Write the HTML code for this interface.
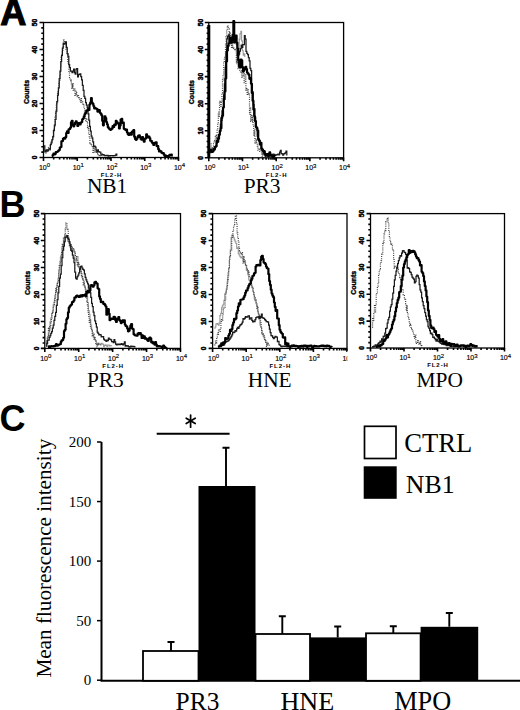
<!DOCTYPE html><html><head><meta charset="utf-8"><style>html,body{margin:0;padding:0;background:#fff;width:520px;height:710px;overflow:hidden}svg{display:block}</style></head><body><svg width="520" height="710" viewBox="0 0 520 710">
<style>.tk{fill:none;stroke:#000;stroke-width:2.2;stroke-linejoin:round} .tn{fill:none;stroke:#1a1a1a;stroke-width:1.25} .gr{fill:none;stroke:#999;stroke-width:1.1} .dt{fill:none;stroke:#444;stroke-width:1.2;stroke-dasharray:1 1.2}</style>
<rect width="520" height="710" fill="#fff"/>
<text x="0.3" y="25.0" font-family='"Liberation Sans", sans-serif' font-weight="bold" font-size="36.2" stroke="#000" stroke-width="1.1" stroke-linejoin="miter">A</text>
<text x="-0.5" y="216.8" font-family='"Liberation Sans", sans-serif' font-weight="bold" font-size="36">B</text>
<text x="-0.5" y="431" font-family='"Liberation Sans", sans-serif' font-weight="bold" font-size="36">C</text>
<rect x="43.5" y="22.5" width="135.0" height="135.0" fill="none" stroke="#000" stroke-width="1.3"/>
<path d="M39.50 157.50H43.5 M41.30 152.10H43.5 M41.30 146.70H43.5 M41.30 141.30H43.5 M41.30 135.90H43.5 M39.50 130.50H43.5 M41.30 125.10H43.5 M41.30 119.70H43.5 M41.30 114.30H43.5 M41.30 108.90H43.5 M39.50 103.50H43.5 M41.30 98.10H43.5 M41.30 92.70H43.5 M41.30 87.30H43.5 M41.30 81.90H43.5 M39.50 76.50H43.5 M41.30 71.10H43.5 M41.30 65.70H43.5 M41.30 60.30H43.5 M41.30 54.90H43.5 M39.50 49.50H43.5 M41.30 44.10H43.5 M41.30 38.70H43.5 M41.30 33.30H43.5 M41.30 27.90H43.5 M39.50 22.50H43.5" stroke="#000" stroke-width="1.6" fill="none"/>
<text x="0" y="0" transform="translate(34.80,157.50) rotate(-90)" text-anchor="middle" dominant-baseline="central" font-family='"Liberation Sans", sans-serif' font-weight="bold" font-size="6.6" stroke="#000" stroke-width="0.45">0</text>
<text x="0" y="0" transform="translate(34.80,130.50) rotate(-90)" text-anchor="middle" dominant-baseline="central" font-family='"Liberation Sans", sans-serif' font-weight="bold" font-size="6.6" stroke="#000" stroke-width="0.45">10</text>
<text x="0" y="0" transform="translate(34.80,103.50) rotate(-90)" text-anchor="middle" dominant-baseline="central" font-family='"Liberation Sans", sans-serif' font-weight="bold" font-size="6.6" stroke="#000" stroke-width="0.45">20</text>
<text x="0" y="0" transform="translate(34.80,76.50) rotate(-90)" text-anchor="middle" dominant-baseline="central" font-family='"Liberation Sans", sans-serif' font-weight="bold" font-size="6.6" stroke="#000" stroke-width="0.45">30</text>
<text x="0" y="0" transform="translate(34.80,49.50) rotate(-90)" text-anchor="middle" dominant-baseline="central" font-family='"Liberation Sans", sans-serif' font-weight="bold" font-size="6.6" stroke="#000" stroke-width="0.45">40</text>
<text x="0" y="0" transform="translate(34.80,22.50) rotate(-90)" text-anchor="middle" dominant-baseline="central" font-family='"Liberation Sans", sans-serif' font-weight="bold" font-size="6.6" stroke="#000" stroke-width="0.45">50</text>
<text x="0" y="0" transform="translate(26.60,92.00) rotate(-90)" text-anchor="middle" dominant-baseline="central" font-family='"Liberation Sans", sans-serif' font-weight="bold" font-size="7" stroke="#000" stroke-width="0.35">Counts</text>
<path d="M43.50 157.5V161.00 M53.66 157.5V159.50 M59.60 157.5V159.50 M63.82 157.5V159.50 M67.09 157.5V159.50 M69.76 157.5V159.50 M72.02 157.5V159.50 M73.98 157.5V159.50 M75.71 157.5V159.50 M77.25 157.5V161.00 M87.41 157.5V159.50 M93.35 157.5V159.50 M97.57 157.5V159.50 M100.84 157.5V159.50 M103.51 157.5V159.50 M105.77 157.5V159.50 M107.73 157.5V159.50 M109.46 157.5V159.50 M111.00 157.5V161.00 M121.16 157.5V159.50 M127.10 157.5V159.50 M131.32 157.5V159.50 M134.59 157.5V159.50 M137.26 157.5V159.50 M139.52 157.5V159.50 M141.48 157.5V159.50 M143.21 157.5V159.50 M144.75 157.5V161.00 M154.91 157.5V159.50 M160.85 157.5V159.50 M165.07 157.5V159.50 M168.34 157.5V159.50 M171.01 157.5V159.50 M173.27 157.5V159.50 M175.23 157.5V159.50 M176.96 157.5V159.50 M178.50 157.5V161.00" stroke="#000" stroke-width="1.6" fill="none"/>
<text x="38.90" y="169.60" font-family='"Liberation Sans", sans-serif' font-size="7" stroke="#000" stroke-width="0.15">10<tspan dy="-2.4" font-size="6">0</tspan></text>
<text x="72.65" y="169.60" font-family='"Liberation Sans", sans-serif' font-size="7" stroke="#000" stroke-width="0.15">10<tspan dy="-2.4" font-size="6">1</tspan></text>
<text x="106.40" y="169.60" font-family='"Liberation Sans", sans-serif' font-size="7" stroke="#000" stroke-width="0.15">10<tspan dy="-2.4" font-size="6">2</tspan></text>
<text x="140.15" y="169.60" font-family='"Liberation Sans", sans-serif' font-size="7" stroke="#000" stroke-width="0.15">10<tspan dy="-2.4" font-size="6">3</tspan></text>
<text x="173.90" y="169.60" font-family='"Liberation Sans", sans-serif' font-size="7" stroke="#000" stroke-width="0.15">10<tspan dy="-2.4" font-size="6">4</tspan></text>
<text x="111.50" y="176.80" text-anchor="middle" font-family='"Liberation Sans", sans-serif' font-size="6" font-weight="bold" letter-spacing="0.95">FL2-H</text>
<text x="86.9" y="193.2" font-family='"Liberation Serif", serif' font-size="21.4">NB1</text>
<rect x="208.8" y="22.5" width="134.8" height="135.3" fill="none" stroke="#000" stroke-width="1.3"/>
<path d="M204.80 157.80H208.8 M206.60 152.39H208.8 M206.60 146.98H208.8 M206.60 141.56H208.8 M206.60 136.15H208.8 M204.80 130.74H208.8 M206.60 125.33H208.8 M206.60 119.92H208.8 M206.60 114.50H208.8 M206.60 109.09H208.8 M204.80 103.68H208.8 M206.60 98.27H208.8 M206.60 92.86H208.8 M206.60 87.44H208.8 M206.60 82.03H208.8 M204.80 76.62H208.8 M206.60 71.21H208.8 M206.60 65.80H208.8 M206.60 60.38H208.8 M206.60 54.97H208.8 M204.80 49.56H208.8 M206.60 44.15H208.8 M206.60 38.74H208.8 M206.60 33.32H208.8 M206.60 27.91H208.8 M204.80 22.50H208.8" stroke="#000" stroke-width="1.6" fill="none"/>
<text x="0" y="0" transform="translate(200.10,157.80) rotate(-90)" text-anchor="middle" dominant-baseline="central" font-family='"Liberation Sans", sans-serif' font-weight="bold" font-size="6.6" stroke="#000" stroke-width="0.45">0</text>
<text x="0" y="0" transform="translate(200.10,130.74) rotate(-90)" text-anchor="middle" dominant-baseline="central" font-family='"Liberation Sans", sans-serif' font-weight="bold" font-size="6.6" stroke="#000" stroke-width="0.45">10</text>
<text x="0" y="0" transform="translate(200.10,103.68) rotate(-90)" text-anchor="middle" dominant-baseline="central" font-family='"Liberation Sans", sans-serif' font-weight="bold" font-size="6.6" stroke="#000" stroke-width="0.45">20</text>
<text x="0" y="0" transform="translate(200.10,76.62) rotate(-90)" text-anchor="middle" dominant-baseline="central" font-family='"Liberation Sans", sans-serif' font-weight="bold" font-size="6.6" stroke="#000" stroke-width="0.45">30</text>
<text x="0" y="0" transform="translate(200.10,49.56) rotate(-90)" text-anchor="middle" dominant-baseline="central" font-family='"Liberation Sans", sans-serif' font-weight="bold" font-size="6.6" stroke="#000" stroke-width="0.45">40</text>
<text x="0" y="0" transform="translate(200.10,22.50) rotate(-90)" text-anchor="middle" dominant-baseline="central" font-family='"Liberation Sans", sans-serif' font-weight="bold" font-size="6.6" stroke="#000" stroke-width="0.45">50</text>
<text x="0" y="0" transform="translate(191.90,92.15) rotate(-90)" text-anchor="middle" dominant-baseline="central" font-family='"Liberation Sans", sans-serif' font-weight="bold" font-size="7" stroke="#000" stroke-width="0.35">Counts</text>
<path d="M208.80 157.8V161.30 M218.94 157.8V159.80 M224.88 157.8V159.80 M229.09 157.8V159.80 M232.36 157.8V159.80 M235.02 157.8V159.80 M237.28 157.8V159.80 M239.23 157.8V159.80 M240.96 157.8V159.80 M242.50 157.8V161.30 M252.64 157.8V159.80 M258.58 157.8V159.80 M262.79 157.8V159.80 M266.06 157.8V159.80 M268.72 157.8V159.80 M270.98 157.8V159.80 M272.93 157.8V159.80 M274.66 157.8V159.80 M276.20 157.8V161.30 M286.34 157.8V159.80 M292.28 157.8V159.80 M296.49 157.8V159.80 M299.76 157.8V159.80 M302.42 157.8V159.80 M304.68 157.8V159.80 M306.63 157.8V159.80 M308.36 157.8V159.80 M309.90 157.8V161.30 M320.04 157.8V159.80 M325.98 157.8V159.80 M330.19 157.8V159.80 M333.46 157.8V159.80 M336.12 157.8V159.80 M338.38 157.8V159.80 M340.33 157.8V159.80 M342.06 157.8V159.80 M343.60 157.8V161.30" stroke="#000" stroke-width="1.6" fill="none"/>
<text x="204.20" y="169.90" font-family='"Liberation Sans", sans-serif' font-size="7" stroke="#000" stroke-width="0.15">10<tspan dy="-2.4" font-size="6">0</tspan></text>
<text x="237.90" y="169.90" font-family='"Liberation Sans", sans-serif' font-size="7" stroke="#000" stroke-width="0.15">10<tspan dy="-2.4" font-size="6">1</tspan></text>
<text x="271.60" y="169.90" font-family='"Liberation Sans", sans-serif' font-size="7" stroke="#000" stroke-width="0.15">10<tspan dy="-2.4" font-size="6">2</tspan></text>
<text x="305.30" y="169.90" font-family='"Liberation Sans", sans-serif' font-size="7" stroke="#000" stroke-width="0.15">10<tspan dy="-2.4" font-size="6">3</tspan></text>
<text x="339.00" y="169.90" font-family='"Liberation Sans", sans-serif' font-size="7" stroke="#000" stroke-width="0.15">10<tspan dy="-2.4" font-size="6">4</tspan></text>
<text x="276.70" y="177.10" text-anchor="middle" font-family='"Liberation Sans", sans-serif' font-size="6" font-weight="bold" letter-spacing="0.95">FL2-H</text>
<text x="243.7" y="193.2" font-family='"Liberation Serif", serif' font-size="21.4">PR3</text>
<rect x="207.3" y="25" width="3" height="132.5" fill="#000"/>
<rect x="44.8" y="213.6" width="135.7" height="134.79999999999998" fill="none" stroke="#000" stroke-width="1.3"/>
<path d="M40.80 348.40H44.8 M42.60 343.01H44.8 M42.60 337.62H44.8 M42.60 332.22H44.8 M42.60 326.83H44.8 M40.80 321.44H44.8 M42.60 316.05H44.8 M42.60 310.66H44.8 M42.60 305.26H44.8 M42.60 299.87H44.8 M40.80 294.48H44.8 M42.60 289.09H44.8 M42.60 283.70H44.8 M42.60 278.30H44.8 M42.60 272.91H44.8 M40.80 267.52H44.8 M42.60 262.13H44.8 M42.60 256.74H44.8 M42.60 251.34H44.8 M42.60 245.95H44.8 M40.80 240.56H44.8 M42.60 235.17H44.8 M42.60 229.78H44.8 M42.60 224.38H44.8 M42.60 218.99H44.8 M40.80 213.60H44.8" stroke="#000" stroke-width="1.6" fill="none"/>
<text x="0" y="0" transform="translate(36.10,348.40) rotate(-90)" text-anchor="middle" dominant-baseline="central" font-family='"Liberation Sans", sans-serif' font-weight="bold" font-size="6.6" stroke="#000" stroke-width="0.45">0</text>
<text x="0" y="0" transform="translate(36.10,321.44) rotate(-90)" text-anchor="middle" dominant-baseline="central" font-family='"Liberation Sans", sans-serif' font-weight="bold" font-size="6.6" stroke="#000" stroke-width="0.45">10</text>
<text x="0" y="0" transform="translate(36.10,294.48) rotate(-90)" text-anchor="middle" dominant-baseline="central" font-family='"Liberation Sans", sans-serif' font-weight="bold" font-size="6.6" stroke="#000" stroke-width="0.45">20</text>
<text x="0" y="0" transform="translate(36.10,267.52) rotate(-90)" text-anchor="middle" dominant-baseline="central" font-family='"Liberation Sans", sans-serif' font-weight="bold" font-size="6.6" stroke="#000" stroke-width="0.45">30</text>
<text x="0" y="0" transform="translate(36.10,240.56) rotate(-90)" text-anchor="middle" dominant-baseline="central" font-family='"Liberation Sans", sans-serif' font-weight="bold" font-size="6.6" stroke="#000" stroke-width="0.45">40</text>
<text x="0" y="0" transform="translate(36.10,213.60) rotate(-90)" text-anchor="middle" dominant-baseline="central" font-family='"Liberation Sans", sans-serif' font-weight="bold" font-size="6.6" stroke="#000" stroke-width="0.45">50</text>
<text x="0" y="0" transform="translate(27.90,283.00) rotate(-90)" text-anchor="middle" dominant-baseline="central" font-family='"Liberation Sans", sans-serif' font-weight="bold" font-size="7" stroke="#000" stroke-width="0.35">Counts</text>
<path d="M44.80 348.4V351.90 M55.01 348.4V350.40 M60.99 348.4V350.40 M65.22 348.4V350.40 M68.51 348.4V350.40 M71.20 348.4V350.40 M73.47 348.4V350.40 M75.44 348.4V350.40 M77.17 348.4V350.40 M78.72 348.4V351.90 M88.94 348.4V350.40 M94.91 348.4V350.40 M99.15 348.4V350.40 M102.44 348.4V350.40 M105.12 348.4V350.40 M107.39 348.4V350.40 M109.36 348.4V350.40 M111.10 348.4V350.40 M112.65 348.4V351.90 M122.86 348.4V350.40 M128.84 348.4V350.40 M133.07 348.4V350.40 M136.36 348.4V350.40 M139.05 348.4V350.40 M141.32 348.4V350.40 M143.29 348.4V350.40 M145.02 348.4V350.40 M146.57 348.4V351.90 M156.79 348.4V350.40 M162.76 348.4V350.40 M167.00 348.4V350.40 M170.29 348.4V350.40 M172.97 348.4V350.40 M175.24 348.4V350.40 M177.21 348.4V350.40 M178.95 348.4V350.40 M180.50 348.4V351.90" stroke="#000" stroke-width="1.6" fill="none"/>
<text x="40.20" y="360.50" font-family='"Liberation Sans", sans-serif' font-size="7" stroke="#000" stroke-width="0.15">10<tspan dy="-2.4" font-size="6">0</tspan></text>
<text x="74.12" y="360.50" font-family='"Liberation Sans", sans-serif' font-size="7" stroke="#000" stroke-width="0.15">10<tspan dy="-2.4" font-size="6">1</tspan></text>
<text x="108.05" y="360.50" font-family='"Liberation Sans", sans-serif' font-size="7" stroke="#000" stroke-width="0.15">10<tspan dy="-2.4" font-size="6">2</tspan></text>
<text x="141.97" y="360.50" font-family='"Liberation Sans", sans-serif' font-size="7" stroke="#000" stroke-width="0.15">10<tspan dy="-2.4" font-size="6">3</tspan></text>
<text x="175.90" y="360.50" font-family='"Liberation Sans", sans-serif' font-size="7" stroke="#000" stroke-width="0.15">10<tspan dy="-2.4" font-size="6">4</tspan></text>
<text x="113.15" y="367.70" text-anchor="middle" font-family='"Liberation Sans", sans-serif' font-size="6" font-weight="bold" letter-spacing="0.95">FL2-H</text>
<text x="86.9" y="387.1" font-family='"Liberation Serif", serif' font-size="21.4">PR3</text>
<rect x="212.6" y="213.6" width="134.4" height="134.79999999999998" fill="none" stroke="#000" stroke-width="1.3"/>
<path d="M208.60 348.40H212.6 M210.40 343.01H212.6 M210.40 337.62H212.6 M210.40 332.22H212.6 M210.40 326.83H212.6 M208.60 321.44H212.6 M210.40 316.05H212.6 M210.40 310.66H212.6 M210.40 305.26H212.6 M210.40 299.87H212.6 M208.60 294.48H212.6 M210.40 289.09H212.6 M210.40 283.70H212.6 M210.40 278.30H212.6 M210.40 272.91H212.6 M208.60 267.52H212.6 M210.40 262.13H212.6 M210.40 256.74H212.6 M210.40 251.34H212.6 M210.40 245.95H212.6 M208.60 240.56H212.6 M210.40 235.17H212.6 M210.40 229.78H212.6 M210.40 224.38H212.6 M210.40 218.99H212.6 M208.60 213.60H212.6" stroke="#000" stroke-width="1.6" fill="none"/>
<text x="0" y="0" transform="translate(203.90,348.40) rotate(-90)" text-anchor="middle" dominant-baseline="central" font-family='"Liberation Sans", sans-serif' font-weight="bold" font-size="6.6" stroke="#000" stroke-width="0.45">0</text>
<text x="0" y="0" transform="translate(203.90,321.44) rotate(-90)" text-anchor="middle" dominant-baseline="central" font-family='"Liberation Sans", sans-serif' font-weight="bold" font-size="6.6" stroke="#000" stroke-width="0.45">10</text>
<text x="0" y="0" transform="translate(203.90,294.48) rotate(-90)" text-anchor="middle" dominant-baseline="central" font-family='"Liberation Sans", sans-serif' font-weight="bold" font-size="6.6" stroke="#000" stroke-width="0.45">20</text>
<text x="0" y="0" transform="translate(203.90,267.52) rotate(-90)" text-anchor="middle" dominant-baseline="central" font-family='"Liberation Sans", sans-serif' font-weight="bold" font-size="6.6" stroke="#000" stroke-width="0.45">30</text>
<text x="0" y="0" transform="translate(203.90,240.56) rotate(-90)" text-anchor="middle" dominant-baseline="central" font-family='"Liberation Sans", sans-serif' font-weight="bold" font-size="6.6" stroke="#000" stroke-width="0.45">40</text>
<text x="0" y="0" transform="translate(203.90,213.60) rotate(-90)" text-anchor="middle" dominant-baseline="central" font-family='"Liberation Sans", sans-serif' font-weight="bold" font-size="6.6" stroke="#000" stroke-width="0.45">50</text>
<text x="0" y="0" transform="translate(195.70,283.00) rotate(-90)" text-anchor="middle" dominant-baseline="central" font-family='"Liberation Sans", sans-serif' font-weight="bold" font-size="7" stroke="#000" stroke-width="0.35">Counts</text>
<path d="M212.60 348.4V351.90 M222.71 348.4V350.40 M228.63 348.4V350.40 M232.83 348.4V350.40 M236.09 348.4V350.40 M238.75 348.4V350.40 M241.00 348.4V350.40 M242.94 348.4V350.40 M244.66 348.4V350.40 M246.20 348.4V351.90 M256.31 348.4V350.40 M262.23 348.4V350.40 M266.43 348.4V350.40 M269.69 348.4V350.40 M272.35 348.4V350.40 M274.60 348.4V350.40 M276.54 348.4V350.40 M278.26 348.4V350.40 M279.80 348.4V351.90 M289.91 348.4V350.40 M295.83 348.4V350.40 M300.03 348.4V350.40 M303.29 348.4V350.40 M305.95 348.4V350.40 M308.20 348.4V350.40 M310.14 348.4V350.40 M311.86 348.4V350.40 M313.40 348.4V351.90 M323.51 348.4V350.40 M329.43 348.4V350.40 M333.63 348.4V350.40 M336.89 348.4V350.40 M339.55 348.4V350.40 M341.80 348.4V350.40 M343.74 348.4V350.40 M345.46 348.4V350.40 M347.00 348.4V351.90" stroke="#000" stroke-width="1.6" fill="none"/>
<text x="208.00" y="360.50" font-family='"Liberation Sans", sans-serif' font-size="7" stroke="#000" stroke-width="0.15">10<tspan dy="-2.4" font-size="6">0</tspan></text>
<text x="241.60" y="360.50" font-family='"Liberation Sans", sans-serif' font-size="7" stroke="#000" stroke-width="0.15">10<tspan dy="-2.4" font-size="6">1</tspan></text>
<text x="275.20" y="360.50" font-family='"Liberation Sans", sans-serif' font-size="7" stroke="#000" stroke-width="0.15">10<tspan dy="-2.4" font-size="6">2</tspan></text>
<text x="308.80" y="360.50" font-family='"Liberation Sans", sans-serif' font-size="7" stroke="#000" stroke-width="0.15">10<tspan dy="-2.4" font-size="6">3</tspan></text>
<text x="342.40" y="360.50" font-family='"Liberation Sans", sans-serif' font-size="7" stroke="#000" stroke-width="0.15">10<tspan dy="-2.4" font-size="6">4</tspan></text>
<text x="280.30" y="367.70" text-anchor="middle" font-family='"Liberation Sans", sans-serif' font-size="6" font-weight="bold" letter-spacing="0.95">FL2-H</text>
<text x="247.7" y="387.1" font-family='"Liberation Serif", serif' font-size="21.4">HNE</text>
<rect x="347.4" y="351" width="10" height="12" fill="#fff"/>
<rect x="370.5" y="213.6" width="134.0" height="134.4" fill="none" stroke="#000" stroke-width="1.3"/>
<path d="M366.50 348.00H370.5 M368.30 342.62H370.5 M368.30 337.25H370.5 M368.30 331.87H370.5 M368.30 326.50H370.5 M366.50 321.12H370.5 M368.30 315.74H370.5 M368.30 310.37H370.5 M368.30 304.99H370.5 M368.30 299.62H370.5 M366.50 294.24H370.5 M368.30 288.86H370.5 M368.30 283.49H370.5 M368.30 278.11H370.5 M368.30 272.74H370.5 M366.50 267.36H370.5 M368.30 261.98H370.5 M368.30 256.61H370.5 M368.30 251.23H370.5 M368.30 245.86H370.5 M366.50 240.48H370.5 M368.30 235.10H370.5 M368.30 229.73H370.5 M368.30 224.35H370.5 M368.30 218.98H370.5 M366.50 213.60H370.5" stroke="#000" stroke-width="1.6" fill="none"/>
<text x="0" y="0" transform="translate(361.80,348.00) rotate(-90)" text-anchor="middle" dominant-baseline="central" font-family='"Liberation Sans", sans-serif' font-weight="bold" font-size="6.6" stroke="#000" stroke-width="0.45">0</text>
<text x="0" y="0" transform="translate(361.80,321.12) rotate(-90)" text-anchor="middle" dominant-baseline="central" font-family='"Liberation Sans", sans-serif' font-weight="bold" font-size="6.6" stroke="#000" stroke-width="0.45">10</text>
<text x="0" y="0" transform="translate(361.80,294.24) rotate(-90)" text-anchor="middle" dominant-baseline="central" font-family='"Liberation Sans", sans-serif' font-weight="bold" font-size="6.6" stroke="#000" stroke-width="0.45">20</text>
<text x="0" y="0" transform="translate(361.80,267.36) rotate(-90)" text-anchor="middle" dominant-baseline="central" font-family='"Liberation Sans", sans-serif' font-weight="bold" font-size="6.6" stroke="#000" stroke-width="0.45">30</text>
<text x="0" y="0" transform="translate(361.80,240.48) rotate(-90)" text-anchor="middle" dominant-baseline="central" font-family='"Liberation Sans", sans-serif' font-weight="bold" font-size="6.6" stroke="#000" stroke-width="0.45">40</text>
<text x="0" y="0" transform="translate(361.80,213.60) rotate(-90)" text-anchor="middle" dominant-baseline="central" font-family='"Liberation Sans", sans-serif' font-weight="bold" font-size="6.6" stroke="#000" stroke-width="0.45">50</text>
<text x="0" y="0" transform="translate(353.60,282.80) rotate(-90)" text-anchor="middle" dominant-baseline="central" font-family='"Liberation Sans", sans-serif' font-weight="bold" font-size="7" stroke="#000" stroke-width="0.35">Counts</text>
<path d="M370.50 348.0V351.50 M380.58 348.0V350.00 M386.48 348.0V350.00 M390.67 348.0V350.00 M393.92 348.0V350.00 M396.57 348.0V350.00 M398.81 348.0V350.00 M400.75 348.0V350.00 M402.47 348.0V350.00 M404.00 348.0V351.50 M414.08 348.0V350.00 M419.98 348.0V350.00 M424.17 348.0V350.00 M427.42 348.0V350.00 M430.07 348.0V350.00 M432.31 348.0V350.00 M434.25 348.0V350.00 M435.97 348.0V350.00 M437.50 348.0V351.50 M447.58 348.0V350.00 M453.48 348.0V350.00 M457.67 348.0V350.00 M460.92 348.0V350.00 M463.57 348.0V350.00 M465.81 348.0V350.00 M467.75 348.0V350.00 M469.47 348.0V350.00 M471.00 348.0V351.50 M481.08 348.0V350.00 M486.98 348.0V350.00 M491.17 348.0V350.00 M494.42 348.0V350.00 M497.07 348.0V350.00 M499.31 348.0V350.00 M501.25 348.0V350.00 M502.97 348.0V350.00 M504.50 348.0V351.50" stroke="#000" stroke-width="1.6" fill="none"/>
<text x="365.90" y="360.10" font-family='"Liberation Sans", sans-serif' font-size="7" stroke="#000" stroke-width="0.15">10<tspan dy="-2.4" font-size="6">0</tspan></text>
<text x="399.40" y="360.10" font-family='"Liberation Sans", sans-serif' font-size="7" stroke="#000" stroke-width="0.15">10<tspan dy="-2.4" font-size="6">1</tspan></text>
<text x="432.90" y="360.10" font-family='"Liberation Sans", sans-serif' font-size="7" stroke="#000" stroke-width="0.15">10<tspan dy="-2.4" font-size="6">2</tspan></text>
<text x="466.40" y="360.10" font-family='"Liberation Sans", sans-serif' font-size="7" stroke="#000" stroke-width="0.15">10<tspan dy="-2.4" font-size="6">3</tspan></text>
<text x="499.90" y="360.10" font-family='"Liberation Sans", sans-serif' font-size="7" stroke="#000" stroke-width="0.15">10<tspan dy="-2.4" font-size="6">4</tspan></text>
<text x="438.00" y="367.30" text-anchor="middle" font-family='"Liberation Sans", sans-serif' font-size="6" font-weight="bold" letter-spacing="0.95">FL2-H</text>
<text x="416.6" y="387.1" font-family='"Liberation Serif", serif' font-size="21.4">MPO</text>
<path d="M45.5 153.0H46.1V153.1H46.7V151.5H47.3V149.6H47.9V150.1H48.5V147.7H49.1V148.6H49.7V150.0H50.3V144.6H50.9V142.9H51.5V142.8H52.1V139.8H52.7V136.6H53.3V130.9H53.9V128.6H54.5V126.0H55.1V117.1H55.7V113.3H56.3V104.5H56.9V100.1H57.5V93.4H58.1V91.6H58.7V83.9H59.3V81.4H59.9V74.9H60.5V67.8H61.1V56.5H61.7V55.3H62.3V50.8H62.9V47.0H63.5V40.1H64.1V42.6H64.7V41.7H65.3V43.4H65.9V49.9H66.5V48.2H67.1V54.7H67.7V61.5H68.3V63.9H68.9V71.4H69.5V78.3H70.1V80.6H70.7V79.4H71.3V83.9H71.9V88.4H72.5V83.6H73.1V90.1H73.7V89.6H74.3V89.1H74.9V96.1H75.5V94.6H76.1V91.1H76.7V94.7H77.3V96.6H77.9V95.7H78.5V98.4H79.1V97.6H79.7V100.0H80.3V102.5H80.9V98.6H81.5V101.5H82.1V101.8H82.7V104.9H83.3V103.8H83.9V107.9H84.5V111.7H85.1V117.0H85.7V120.6H86.3V118.3H86.9V122.6H87.5V129.0H88.1V126.8H88.7V133.7H89.3V138.1H89.9V143.1H90.5V143.9H91.1V143.7H91.7V145.6H92.3V147.7H92.9V152.3H93.5V148.7H94.1V149.7H94.7V151.8H95.3V151.5H95.9V152.1H96.5V151.4H97.1V153.9H97.7V153.6H98.3V155.7H98.9V155.3H99.5V154.8H100.1V155.6H100.7V154.9H101.3V156.2H101.9V155.6H102.5V156.2" class="dt"/>
<path d="M44.0 145.8H44.8V151.9H45.6V150.6H46.4V149.9H47.2V151.2H48.0V150.2H48.8V149.2H49.6V149.2H50.4V144.5H51.2V142.2H52.0V139.7H52.8V136.8H53.6V130.7H54.4V125.2H55.2V119.3H56.0V111.2H56.8V101.9H57.6V95.2H58.4V87.8H59.2V78.7H60.0V71.2H60.8V61.6H61.6V55.4H62.4V48.0H63.2V43.4H64.0V44.0H64.8V43.5H65.6V41.9H66.4V47.4H67.2V53.5H68.0V56.3H68.8V64.5H69.6V67.7H70.4V71.2H71.2V71.1H72.0V72.5H72.8V71.1H73.6V69.1H74.4V72.7H75.2V74.1H76.0V69.2H76.8V68.7H77.6V76.8H78.4V74.4H79.2V74.6H80.0V73.9H80.8V76.7H81.6V79.8H82.4V85.4H83.2V90.4H84.0V96.4H84.8V98.3H85.6V102.5H86.4V105.0H87.2V107.7H88.0V113.9H88.8V120.0H89.6V126.4H90.4V131.0H91.2V136.0H92.0V138.2H92.8V141.9H93.6V146.5H94.4V146.0H95.2V147.2H96.0V150.0H96.8V151.8H97.6V149.9H98.4V151.7H99.2V152.0H100.0V152.0H100.8V154.2H101.6V154.2H102.4V154.6H103.2V154.6H104.0V155.4H104.8V155.5H105.6V155.7H106.4V155.4H107.2V155.4H108.0V156.1H108.8V155.6H109.6V155.8H110.4V155.7H111.2V155.6H112.0V155.6H112.8V155.9H113.6V155.6H114.4V155.7H115.2V155.3H116.0V154.2H116.8V155.7" class="tn"/>
<path d="M51.8 156.1H52.6V155.0H53.4V153.7H54.2V154.4H55.0V153.8H55.8V152.1H56.6V152.0H57.4V151.5H58.2V150.7H59.0V150.0H59.8V147.5H60.6V147.0H61.4V141.3H62.2V140.9H63.0V138.6H63.8V138.2H64.6V138.6H65.4V137.1H66.2V133.1H67.0V131.4H67.8V132.9H68.6V129.3H69.4V128.9H70.2V127.6H71.0V122.3H71.8V120.8H72.6V125.0H73.4V126.3H74.2V124.4H75.0V122.8H75.8V121.4H76.6V122.6H77.4V126.0H78.2V124.6H79.0V123.1H79.8V124.5H80.6V122.7H81.4V122.0H82.2V119.3H83.0V118.5H83.8V116.3H84.6V114.1H85.4V112.9H86.2V110.6H87.0V110.6H87.8V109.3H88.6V110.0H89.4V104.6H90.2V102.7H91.0V98.2H91.8V102.6H92.6V103.8H93.4V106.0H94.2V108.5H95.0V108.0H95.8V108.6H96.6V108.9H97.4V111.6H98.2V111.3H99.0V110.0H99.8V112.8H100.6V113.8H101.4V115.3H102.2V120.8H103.0V125.3H103.8V120.8H104.6V116.4H105.4V118.2H106.2V122.0H107.0V124.3H107.8V127.2H108.6V128.3H109.4V129.2H110.2V129.8H111.0V129.3H111.8V128.4H112.6V126.2H113.4V127.0H114.2V124.5H115.0V125.0H115.8V120.9H116.6V122.0H117.4V123.3H118.2V123.4H119.0V128.5H119.8V125.6H120.6V119.5H121.4V118.9H122.2V122.9H123.0V122.7H123.8V128.8H124.6V129.2H125.4V130.1H126.2V129.6H127.0V132.5H127.8V134.3H128.6V134.9H129.4V133.4H130.2V133.0H131.0V134.7H131.8V131.9H132.6V131.0H133.4V130.2H134.2V136.7H135.0V138.9H135.8V139.8H136.6V138.8H137.4V137.0H138.2V135.5H139.0V135.3H139.8V137.0H140.6V138.9H141.4V139.7H142.2V137.0H143.0V139.0H143.8V141.7H144.6V138.8H145.4V138.4H146.2V134.4H147.0V136.0H147.8V137.3H148.6V136.5H149.4V138.0H150.2V140.7H151.0V140.9H151.8V142.5H152.6V143.5H153.4V145.0H154.2V142.9H155.0V142.8H155.8V142.3H156.6V146.1H157.4V146.1H158.2V149.2H159.0V151.5H159.8V150.8H160.6V151.3H161.4V152.7H162.2V153.2H163.0V153.1H163.8V154.7H164.6V155.9H165.4V155.5H166.2V156.2H167.0V156.0H167.8V156.3H168.6V155.8H169.4V154.9H170.2V155.3H171.0V154.6H171.8V156.5" class="tk"/>
<path d="M236.0 63.7H236.8V55.0H237.6V50.1H238.4V48.6H239.2V39.1H240.0V33.6H240.8V31.2H241.6V40.9H242.4V50.7H243.2V55.1H244.0V53.7H244.8V57.1" class="gr"/>
<path d="M210.5 143.8H211.1V150.0H211.7V147.5H212.3V147.7H212.9V146.3H213.5V142.0H214.1V140.9H214.7V139.4H215.3V135.6H215.9V135.7H216.5V139.2H217.1V129.8H217.7V123.6H218.3V112.2H218.9V117.2H219.5V102.8H220.1V101.1H220.7V106.5H221.3V101.4H221.9V93.1H222.5V79.8H223.1V75.1H223.7V62.6H224.3V58.6H224.9V57.3H225.5V44.3H226.1V36.7H226.7V29.8H227.3V25.8H227.9V26.6H228.5V28.9H229.1V36.1H229.7V32.1H230.3V43.8H230.9V45.4H231.5V47.3H232.1V42.2H232.7V48.4H233.3V47.3H233.9V48.0H234.5V50.5H235.1V48.7H235.7V50.4H236.3V62.4H236.9V59.9H237.5V63.5H238.1V68.7H238.7V58.5H239.3V64.4H239.9V70.5H240.5V72.7H241.1V70.5H241.7V77.9H242.3V75.6H242.9V70.8H243.5V73.5H244.1V82.6H244.7V82.6H245.3V74.0H245.9V90.1H246.5V88.6H247.1V94.3H247.7V89.1H248.3V93.6H248.9V94.0H249.5V114.4H250.1V108.2H250.7V121.3H251.3V114.7H251.9V121.6H252.5V116.9H253.1V126.3H253.7V136.0H254.3V129.5H254.9V142.8H255.5V142.7H256.1V139.2H256.7V143.8H257.3V146.2H257.9V150.2H258.5V149.0H259.1V148.4H259.7V151.5H260.3V149.8H260.9V150.2H261.5V154.1H262.1V156.6H262.7V151.2H263.3V154.9H263.9V153.9H264.5V153.7H265.1V157.0H265.7V155.2" class="dt"/>
<path d="M210.0 152.7H210.8V149.4H211.6V152.3H212.4V151.0H213.2V148.8H214.0V150.1H214.8V146.8H215.6V146.2H216.4V143.2H217.2V138.5H218.0V137.4H218.8V134.8H219.6V132.1H220.4V124.0H221.2V120.3H222.0V110.9H222.8V107.6H223.6V94.9H224.4V83.9H225.2V67.2H226.0V52.0H226.8V38.8H227.6V36.4H228.4V34.9H229.2V36.8H230.0V42.7H230.8V38.4H231.6V37.1H232.4V42.6H233.2V42.2H234.0V42.8H234.8V38.7H235.6V41.0H236.4V44.2H237.2V55.1H238.0V55.4H238.8V54.0H239.6V51.1H240.4V48.6H241.2V45.1H242.0V47.4H242.8V44.7H243.6V44.7H244.4V35.7H245.2V39.0H246.0V51.3H246.8V53.3H247.6V54.7H248.4V57.5H249.2V60.9H250.0V68.3H250.8V70.6H251.6V84.2H252.4V91.8H253.2V104.6H254.0V108.7H254.8V117.6H255.6V121.3H256.4V127.6H257.2V136.2H258.0V139.5H258.8V140.5H259.6V142.8H260.4V143.6H261.2V148.3H262.0V150.9H262.8V151.6H263.6V152.5H264.4V151.9H265.2V154.0H266.0V154.2H266.8V155.7H267.6V156.4H268.4V154.6H269.2V154.2H270.0V154.9H270.8V154.5H271.6V154.4H272.4V155.0H273.2V154.1H274.0V155.5H274.8V154.9H275.6V155.2H276.4V154.8H277.2V154.4H278.0V154.2H278.8V154.8H279.6V152.0H280.4V150.4H281.2V153.6H282.0V153.9H282.8V155.1H283.6V153.9H284.4V153.7H285.2V152.6H286.0V151.1H286.8V155.6" class="tn"/>
<path d="M210.2 149.9H211.0V151.7H211.8V151.9H212.6V151.5H213.4V149.1H214.2V149.1H215.0V146.9H215.8V146.3H216.6V141.1H217.4V141.8H218.2V138.7H219.0V134.8H219.8V130.9H220.6V128.2H221.4V117.9H222.2V115.8H223.0V107.5H223.8V99.2H224.6V91.6H225.4V78.6H226.2V61.4H227.0V50.4H227.8V45.9H228.6V43.3H229.4V37.9H230.2V41.7H231.0V42.6H231.8V40.1H232.6V34.8H233.4V21.0H234.2V42.1H235.0V40.3H235.8V35.7H236.6V42.7H237.4V48.5H238.2V60.2H239.0V66.3H239.8V67.4H240.6V59.5H241.4V60.4H242.2V67.2H243.0V71.4H243.8V69.9H244.6V68.0H245.4V66.8H246.2V69.1H247.0V72.6H247.8V73.6H248.6V74.8H249.4V78.8H250.2V78.1H251.0V83.8H251.8V92.9H252.6V100.7H253.4V109.4H254.2V116.3H255.0V121.1H255.8V126.9H256.6V128.0H257.4V130.5H258.2V139.0H259.0V140.7H259.8V144.5H260.6V142.8H261.4V148.5H262.2V149.7H263.0V151.0H263.8V151.2H264.6V153.9H265.4V155.6H266.2V155.1H267.0V154.2H267.8V154.9H268.6V155.8H269.4V152.4H270.2V155.0H271.0V155.7H271.8V155.9H272.6V156.9H273.4V156.4H274.2V155.7H275.0V155.8" class="tk"/>
<path d="M46.0 344.7H46.8V340.2H47.6V337.6H48.4V334.3H49.2V329.9H50.0V321.8H50.8V317.7H51.6V313.7H52.4V310.8H53.2V304.9H54.0V302.4H54.8V295.2H55.6V291.9H56.4V287.2H57.2V283.1H58.0V278.3H58.8V270.0H59.6V265.5H60.4V261.5H61.2V254.4H62.0V247.5H62.8V244.7H63.6V240.5H64.4V237.7H65.2V234.7H66.0V237.7H66.8V237.4H67.6V241.1H68.4V241.1H69.2V243.6H70.0V247.2H70.8V248.6H71.6V251.2H72.4V251.2H73.2V250.4H74.0V252.1H74.8V259.6H75.6V261.3H76.4V257.0H77.2V256.5H78.0V262.5H78.8V267.7H79.6V270.4H80.4V270.7H81.2V273.6H82.0V277.8H82.8V279.1H83.6V281.2H84.4V285.7H85.2V289.7H86.0V293.0H86.8V296.8H87.6V302.5H88.4V310.6H89.2V314.3H90.0V319.8H90.8V325.1H91.6V329.7H92.4V332.6H93.2V337.1H94.0V337.3H94.8V339.8H95.6V340.8H96.4V344.3H97.2V343.4H98.0V343.0H98.8V343.7H99.6V344.1H100.4V345.0H101.2V343.3H102.0V343.8H102.8V344.4H103.6V346.6H104.4V345.5H105.2V344.8H106.0V345.5H106.8V346.4H107.6V345.0H108.4V345.0H109.2V346.0H110.0V345.6H110.8V345.8H111.6V345.2" class="gr"/>
<path d="M46.0 344.2H46.6V341.8H47.2V337.2H47.8V335.5H48.4V327.5H49.0V331.4H49.6V326.8H50.2V325.4H50.8V323.1H51.4V318.0H52.0V312.3H52.6V313.2H53.2V307.2H53.8V304.5H54.4V300.3H55.0V297.2H55.6V288.5H56.2V291.9H56.8V285.4H57.4V282.8H58.0V280.4H58.6V272.0H59.2V264.0H59.8V262.0H60.4V257.3H61.0V254.9H61.6V252.6H62.2V244.4H62.8V246.0H63.4V238.1H64.0V238.3H64.6V233.5H65.2V229.2H65.8V223.0H66.4V222.8H67.0V228.7H67.6V229.3H68.2V235.9H68.8V243.1H69.4V245.6H70.0V245.9H70.6V246.4H71.2V244.8H71.8V250.2H72.4V247.7H73.0V248.5H73.6V248.8H74.2V251.0H74.8V252.2H75.4V255.4H76.0V255.6H76.6V258.8H77.2V266.2H77.8V262.6H78.4V263.9H79.0V267.2H79.6V269.6H80.2V267.5H80.8V271.5H81.4V276.0H82.0V276.6H82.6V279.1H83.2V285.0H83.8V282.9H84.4V287.4H85.0V288.9H85.6V297.5H86.2V294.1H86.8V301.1H87.4V305.6H88.0V312.5H88.6V316.5H89.2V322.3H89.8V319.3H90.4V328.1H91.0V329.4H91.6V330.9H92.2V336.0H92.8V335.2H93.4V334.2H94.0V339.2H94.6V337.9H95.2V341.0H95.8V344.3H96.4V344.7H97.0V346.8H97.6V344.5H98.2V343.2H98.8V344.6H99.4V344.8H100.0V344.9" class="dt"/>
<path d="M46.0 346.2H46.8V343.4H47.6V340.0H48.4V340.2H49.2V337.4H50.0V335.7H50.8V333.3H51.6V331.6H52.4V328.0H53.2V325.1H54.0V320.4H54.8V316.4H55.6V312.4H56.4V305.3H57.2V299.7H58.0V292.8H58.8V286.4H59.6V278.2H60.4V274.0H61.2V265.7H62.0V257.6H62.8V250.2H63.6V246.1H64.4V241.5H65.2V237.2H66.0V237.1H66.8V235.6H67.6V238.1H68.4V239.1H69.2V241.8H70.0V244.9H70.8V250.3H71.6V251.1H72.4V255.2H73.2V258.0H74.0V262.7H74.8V272.2H75.6V278.0H76.4V279.2H77.2V276.7H78.0V275.1H78.8V272.9H79.6V268.8H80.4V266.7H81.2V266.0H82.0V268.1H82.8V269.4H83.6V270.2H84.4V273.8H85.2V277.4H86.0V279.8H86.8V281.9H87.6V283.9H88.4V288.2H89.2V290.3H90.0V292.9H90.8V297.3H91.6V303.3H92.4V306.6H93.2V312.2H94.0V315.6H94.8V320.8H95.6V323.5H96.4V327.2H97.2V332.2H98.0V333.4H98.8V334.9H99.6V334.7H100.4V334.9H101.2V336.9H102.0V336.6H102.8V336.7H103.6V339.0H104.4V340.1H105.2V340.4H106.0V341.3H106.8V340.2H107.6V340.5H108.4V338.2H109.2V339.1H110.0V339.4H110.8V339.8H111.6V341.6H112.4V341.7H113.2V342.7H114.0V339.7H114.8V341.8H115.6V344.2H116.4V344.8H117.2V344.1H118.0V344.6H118.8V344.2H119.6V344.5H120.4V344.3H121.2V343.7H122.0V344.4H122.8V344.9H123.6V343.8H124.4V341.8H125.2V346.2H126.0V345.7H126.8V346.1H127.6V345.8H128.4V346.5H129.2V347.0H130.0V346.9H130.8V346.2H131.6V346.6H132.4V346.4H133.2V346.4H134.0V346.9H134.8V346.1" class="tn"/>
<path d="M48.0 346.9H48.8V346.4H49.6V346.9H50.4V346.4H51.2V346.0H52.0V346.3H52.8V346.4H53.6V346.0H54.4V346.1H55.2V345.4H56.0V344.2H56.8V345.7H57.6V345.4H58.4V344.8H59.2V344.3H60.0V344.2H60.8V341.7H61.6V340.4H62.4V339.9H63.2V337.8H64.0V331.0H64.8V329.8H65.6V323.8H66.4V319.3H67.2V317.9H68.0V312.4H68.8V307.7H69.6V306.3H70.4V305.3H71.2V304.6H72.0V302.0H72.8V301.8H73.6V300.6H74.4V297.5H75.2V297.5H76.0V296.0H76.8V295.7H77.6V296.0H78.4V296.9H79.2V296.9H80.0V295.7H80.8V295.3H81.6V296.5H82.4V295.1H83.2V295.6H84.0V295.7H84.8V294.7H85.6V295.9H86.4V291.7H87.2V292.7H88.0V290.7H88.8V291.8H89.6V290.5H90.4V285.3H91.2V285.1H92.0V285.7H92.8V286.7H93.6V285.3H94.4V282.4H95.2V281.8H96.0V283.2H96.8V283.6H97.6V288.3H98.4V289.0H99.2V296.4H100.0V298.9H100.8V302.1H101.6V301.8H102.4V301.8H103.2V303.8H104.0V303.8H104.8V305.1H105.6V306.6H106.4V314.7H107.2V311.3H108.0V309.2H108.8V313.8H109.6V320.2H110.4V318.8H111.2V318.5H112.0V318.9H112.8V318.9H113.6V316.8H114.4V317.2H115.2V320.1H116.0V321.9H116.8V318.9H117.6V319.1H118.4V317.1H119.2V320.2H120.0V320.9H120.8V323.1H121.6V322.2H122.4V320.3H123.2V321.9H124.0V320.4H124.8V324.5H125.6V326.0H126.4V326.4H127.2V328.6H128.0V331.3H128.8V330.7H129.6V328.3H130.4V325.6H131.2V324.1H132.0V328.6H132.8V329.1H133.6V334.2H134.4V335.0H135.2V335.5H136.0V335.6H136.8V335.7H137.6V333.5H138.4V333.1H139.2V334.1H140.0V333.2H140.8V334.6H141.6V337.9H142.4V335.5H143.2V338.0H144.0V336.3H144.8V338.7H145.6V338.4H146.4V339.1H147.2V340.3H148.0V340.9H148.8V338.4H149.6V337.5H150.4V338.3H151.2V342.3H152.0V341.9H152.8V343.3H153.6V342.5H154.4V344.6H155.2V342.2H156.0V344.7H156.8V346.4H157.6V346.1H158.4V346.1H159.2V346.5H160.0V346.4H160.8V346.6H161.6V347.3H162.4V346.6H163.2V345.7H164.0V346.6H164.8V347.4H165.6V347.7H166.4V347.3" class="tk"/>
<path d="M214.3 328.2H215.1V327.0H215.9V324.0H216.7V323.5H217.5V324.1H218.3V325.1H219.1V323.1H219.9V315.6H220.7V313.4H221.5V307.9H222.3V305.9H223.1V304.3H223.9V300.2H224.7V293.7H225.5V292.1H226.3V288.5H227.1V282.3H227.9V275.5H228.7V268.3H229.5V256.7H230.3V249.7H231.1V237.6H231.9V235.0H232.7V235.2H233.5V237.7H234.3V239.9H235.1V241.8H235.9V243.5H236.7V248.4H237.5V247.7H238.3V253.6H239.1V255.0H239.9V256.8H240.7V257.7H241.5V257.1H242.3V258.2H243.1V260.8H243.9V261.0H244.7V260.6H245.5V265.2H246.3V270.4H247.1V270.5H247.9V275.0H248.7V280.0H249.5V280.3H250.3V282.0H251.1V284.7H251.9V287.6H252.7V291.3H253.5V294.1H254.3V298.9H255.1V300.7H255.9V303.8H256.7V306.1H257.5V311.4H258.3V314.5H259.1V319.4H259.9V324.9H260.7V327.3H261.5V330.6H262.3V333.5H263.1V336.2H263.9V338.2H264.7V339.6H265.5V342.5H266.3V342.1H267.1V345.3H267.9V344.9H268.7V345.0H269.5V345.9" class="gr"/>
<path d="M214.3 344.8H214.9V344.3H215.5V341.0H216.1V343.5H216.7V337.8H217.3V333.0H217.9V334.5H218.5V329.3H219.1V331.3H219.7V331.3H220.3V328.0H220.9V321.3H221.5V318.8H222.1V320.8H222.7V313.9H223.3V309.5H223.9V308.1H224.5V307.2H225.1V300.5H225.7V293.8H226.3V290.1H226.9V286.5H227.5V279.3H228.1V272.2H228.7V268.6H229.3V260.4H229.9V256.6H230.5V251.1H231.1V250.9H231.7V239.0H232.3V235.7H232.9V230.7H233.5V227.1H234.1V224.4H234.7V218.7H235.3V215.7H235.9V215.8H236.5V223.5H237.1V232.9H237.7V237.9H238.3V241.7H238.9V248.4H239.5V250.8H240.1V253.3H240.7V252.4H241.3V254.7H241.9V252.7H242.5V255.7H243.1V263.2H243.7V256.4H244.3V261.9H244.9V264.6H245.5V264.9H246.1V265.8H246.7V269.2H247.3V271.2H247.9V272.9H248.5V270.8H249.1V276.4H249.7V276.6H250.3V279.0H250.9V282.5H251.5V285.2H252.1V287.8H252.7V287.1H253.3V292.5H253.9V295.5H254.5V297.7H255.1V300.7H255.7V300.2H256.3V303.1H256.9V308.3H257.5V306.4H258.1V312.9H258.7V314.3H259.3V317.7H259.9V317.7H260.5V322.7H261.1V327.7H261.7V332.8H262.3V334.8H262.9V334.2H263.5V335.7H264.1V336.1H264.7V340.6H265.3V340.5H265.9V343.3H266.5V346.4H267.1V343.7H267.7V342.5H268.3V344.6" class="dt"/>
<path d="M219.0 346.7H219.8V346.2H220.6V346.5H221.4V345.7H222.2V344.3H223.0V345.0H223.8V344.9H224.6V343.1H225.4V342.0H226.2V341.5H227.0V341.3H227.8V340.8H228.6V340.2H229.4V339.0H230.2V337.8H231.0V336.7H231.8V334.9H232.6V332.0H233.4V332.5H234.2V332.1H235.0V330.7H235.8V331.0H236.6V328.9H237.4V327.3H238.2V328.4H239.0V326.6H239.8V325.1H240.6V324.7H241.4V323.8H242.2V322.0H243.0V318.5H243.8V319.0H244.6V318.1H245.4V316.7H246.2V317.0H247.0V317.1H247.8V316.0H248.6V315.8H249.4V319.2H250.2V317.8H251.0V317.9H251.8V320.4H252.6V321.8H253.4V321.0H254.2V321.5H255.0V319.6H255.8V317.6H256.6V317.0H257.4V317.1H258.2V316.6H259.0V318.3H259.8V316.3H260.6V317.3H261.4V314.2H262.2V317.6H263.0V318.0H263.8V318.4H264.6V319.6H265.4V320.4H266.2V321.5H267.0V321.5H267.8V322.2H268.6V325.1H269.4V329.1H270.2V332.5H271.0V335.6H271.8V335.8H272.6V337.4H273.4V338.6H274.2V337.6H275.0V336.3H275.8V336.8H276.6V337.2H277.4V341.7H278.2V341.3H279.0V344.7H279.8V345.0H280.6V346.2H281.4V346.5H282.2V346.2H283.0V346.2H283.8V346.3H284.6V346.4H285.4V346.2H286.2V346.4H287.0V346.9H287.8V345.9H288.6V346.5H289.4V346.2" class="tn"/>
<path d="M218.0 346.6H218.8V346.4H219.6V345.5H220.4V345.5H221.2V343.4H222.0V344.9H222.8V342.6H223.6V343.1H224.4V341.8H225.2V338.0H226.0V339.2H226.8V338.6H227.6V338.5H228.4V335.5H229.2V333.8H230.0V329.8H230.8V330.8H231.6V329.1H232.4V325.0H233.2V322.6H234.0V318.9H234.8V319.5H235.6V318.6H236.4V313.2H237.2V310.6H238.0V306.6H238.8V303.3H239.6V304.3H240.4V299.8H241.2V299.6H242.0V299.3H242.8V299.2H243.6V297.3H244.4V295.6H245.2V292.8H246.0V290.6H246.8V290.5H247.6V288.0H248.4V285.8H249.2V284.2H250.0V283.5H250.8V280.4H251.6V278.7H252.4V276.0H253.2V275.6H254.0V273.4H254.8V272.8H255.6V266.6H256.4V265.1H257.2V265.2H258.0V264.8H258.8V265.4H259.6V265.5H260.4V260.0H261.2V256.6H262.0V255.8H262.8V259.1H263.6V262.6H264.4V262.9H265.2V264.1H266.0V266.6H266.8V268.2H267.6V268.5H268.4V274.2H269.2V281.1H270.0V284.9H270.8V289.7H271.6V293.6H272.4V295.7H273.2V297.2H274.0V302.5H274.8V306.9H275.6V311.0H276.4V310.0H277.2V318.5H278.0V318.6H278.8V325.2H279.6V329.8H280.4V331.9H281.2V333.1H282.0V333.8H282.8V337.5H283.6V337.7H284.4V337.3H285.2V344.4H286.0V343.1H286.8V345.1H287.6V343.6H288.4V346.0H289.2V346.6H290.0V346.8H290.8V346.2H291.6V345.7H292.4V346.1H293.2V345.3H294.0V345.5H294.8V346.2H295.6V345.8H296.4V346.1H297.2V346.2H298.0V347.0H298.8V346.7H299.6V346.2H300.4V346.7H301.2V345.9H302.0V346.1H302.8V346.6H303.6V345.7H304.4V346.1H305.2V345.7H306.0V346.2H306.8V346.9H307.6V345.9H308.4V346.3H309.2V345.8H310.0V345.7H310.8V345.7H311.6V346.8H312.4V347.2H313.2V346.4H314.0V345.9H314.8V346.5H315.6V346.1H316.4V346.5H317.2V346.3H318.0V346.3H318.8V346.4H319.6V346.0H320.4V346.0H321.2V345.5H322.0V346.0H322.8V345.6H323.6V346.1H324.4V345.8H325.2V346.2H326.0V346.4H326.8V345.6H327.6V345.9H328.4V345.8H329.2V346.5H330.0V346.9H330.8V346.5H331.6V346.1" class="tk"/>
<path d="M372.0 327.2H372.6V317.7H373.2V321.3H373.8V313.6H374.4V304.7H375.0V311.8H375.6V304.7H376.2V294.1H376.8V292.0H377.4V286.3H378.0V282.2H378.6V273.9H379.2V270.9H379.8V268.6H380.4V263.3H381.0V260.6H381.6V253.4H382.2V254.0H382.8V243.6H383.4V242.2H384.0V233.8H384.6V230.4H385.2V231.3H385.8V221.5H386.4V221.6H387.0V217.9H387.6V218.1H388.2V224.0H388.8V232.1H389.4V236.5H390.0V241.7H390.6V243.8H391.2V243.3H391.8V244.4H392.4V248.8H393.0V249.8H393.6V259.5H394.2V268.4H394.8V266.3H395.4V266.1H396.0V267.6H396.6V267.3H397.2V268.4H397.8V269.4H398.4V272.3H399.0V274.1H399.6V278.4H400.2V277.9H400.8V280.8H401.4V280.9H402.0V289.6H402.6V289.5H403.2V294.7H403.8V295.0H404.4V299.3H405.0V298.5H405.6V303.6H406.2V311.0H406.8V305.3H407.4V313.6H408.0V317.7H408.6V317.9H409.2V321.7H409.8V325.8H410.4V324.1H411.0V328.9H411.6V328.4H412.2V330.9H412.8V332.2H413.4V334.5H414.0V336.3H414.6V338.2H415.2V335.1H415.8V343.5H416.4V342.5H417.0V342.3H417.6V340.7H418.2V342.0H418.8V343.9H419.4V344.1H420.0V341.5H420.6V345.5H421.2V347.4H421.8V344.3" class="dt"/>
<path d="M372.0 347.2H372.8V346.7H373.6V346.2H374.4V346.3H375.2V344.9H376.0V345.1H376.8V345.4H377.6V344.1H378.4V343.2H379.2V342.7H380.0V341.2H380.8V342.1H381.6V338.8H382.4V339.5H383.2V336.3H384.0V336.0H384.8V333.1H385.6V328.7H386.4V328.0H387.2V323.0H388.0V319.6H388.8V317.4H389.6V311.0H390.4V306.8H391.2V304.7H392.0V299.1H392.8V293.2H393.6V286.3H394.4V279.9H395.2V275.3H396.0V271.1H396.8V267.7H397.6V263.6H398.4V260.7H399.2V257.9H400.0V255.5H400.8V256.2H401.6V253.1H402.4V250.9H403.2V250.7H404.0V252.2H404.8V252.5H405.6V254.3H406.4V260.2H407.2V268.2H408.0V267.5H408.8V268.6H409.6V271.9H410.4V272.4H411.2V274.7H412.0V277.1H412.8V278.2H413.6V279.2H414.4V282.8H415.2V281.6H416.0V276.3H416.8V275.1H417.6V275.8H418.4V278.0H419.2V284.5H420.0V289.8H420.8V292.2H421.6V297.8H422.4V301.7H423.2V305.6H424.0V308.5H424.8V312.7H425.6V316.2H426.4V319.7H427.2V321.7H428.0V326.6H428.8V328.1H429.6V330.5H430.4V333.5H431.2V333.2H432.0V334.6H432.8V337.3H433.6V337.2H434.4V338.4H435.2V339.7H436.0V341.2H436.8V339.0H437.6V341.0H438.4V341.4H439.2V342.1H440.0V342.9H440.8V343.3H441.6V344.2H442.4V343.6H443.2V344.4H444.0V344.6H444.8V344.2H445.6V344.8H446.4V345.7H447.2V345.3H448.0V345.1H448.8V345.6H449.6V345.5H450.4V346.1H451.2V346.4H452.0V346.0H452.8V346.2H453.6V346.6H454.4V346.2H455.2V346.4H456.0V346.1H456.8V346.2H457.6V346.3H458.4V347.0H459.2V346.4H460.0V346.4" class="tn"/>
<path d="M376.0 346.9H376.8V346.6H377.6V346.4H378.4V345.9H379.2V346.4H380.0V345.1H380.8V345.5H381.6V344.4H382.4V343.9H383.2V340.7H384.0V340.9H384.8V339.7H385.6V338.3H386.4V335.1H387.2V337.4H388.0V334.9H388.8V333.8H389.6V332.1H390.4V330.0H391.2V328.6H392.0V324.6H392.8V321.8H393.6V319.9H394.4V316.2H395.2V311.6H396.0V307.4H396.8V303.1H397.6V299.9H398.4V297.7H399.2V292.0H400.0V291.7H400.8V286.1H401.6V279.9H402.4V275.7H403.2V267.6H404.0V264.1H404.8V261.4H405.6V259.7H406.4V257.4H407.2V255.0H408.0V254.1H408.8V250.1H409.6V252.8H410.4V251.1H411.2V252.2H412.0V252.0H412.8V250.8H413.6V251.1H414.4V252.3H415.2V254.4H416.0V256.6H416.8V258.2H417.6V258.1H418.4V259.9H419.2V261.6H420.0V265.5H420.8V265.2H421.6V271.8H422.4V273.1H423.2V276.1H424.0V281.4H424.8V286.1H425.6V290.4H426.4V296.5H427.2V302.2H428.0V310.4H428.8V315.9H429.6V319.9H430.4V325.4H431.2V327.9H432.0V328.3H432.8V327.7H433.6V329.1H434.4V331.9H435.2V331.2H436.0V334.8H436.8V335.6H437.6V336.7H438.4V335.2H439.2V338.8H440.0V340.9H440.8V340.2H441.6V341.5H442.4V339.2H443.2V342.9H444.0V341.8H444.8V343.6H445.6V341.3H446.4V343.9H447.2V343.3H448.0V344.4H448.8V343.2H449.6V343.6H450.4V345.8H451.2V343.8H452.0V344.0H452.8V344.4H453.6V344.1H454.4V345.6H455.2V346.0H456.0V344.8H456.8V344.5H457.6V346.0H458.4V346.0H459.2V345.9H460.0V346.1H460.8V345.3H461.6V345.7H462.4V345.3H463.2V345.4H464.0V346.3H464.8V345.8H465.6V346.9H466.4V346.2H467.2V345.7H468.0V346.0H468.8V346.2H469.6V345.4H470.4V344.1H471.2V344.9H472.0V345.8H472.8V345.3H473.6V345.6H474.4V346.5H475.2V346.3H476.0V346.0H476.8V346.3H477.6V346.3" class="tk"/>
<path d="M101.5 442V680.8H520" stroke="#000" stroke-width="2" fill="none"/>
<path d="M97.0 680.20H101.5" stroke="#000" stroke-width="1.5"/>
<text x="91.2" y="685.30" text-anchor="end" font-family='"Liberation Serif", serif' font-size="15">0</text>
<path d="M97.0 620.65H101.5" stroke="#000" stroke-width="1.5"/>
<text x="91.2" y="625.75" text-anchor="end" font-family='"Liberation Serif", serif' font-size="15">50</text>
<path d="M97.0 561.10H101.5" stroke="#000" stroke-width="1.5"/>
<text x="91.2" y="566.20" text-anchor="end" font-family='"Liberation Serif", serif' font-size="15">100</text>
<path d="M97.0 501.55H101.5" stroke="#000" stroke-width="1.5"/>
<text x="91.2" y="506.65" text-anchor="end" font-family='"Liberation Serif", serif' font-size="15">150</text>
<path d="M97.0 442.00H101.5" stroke="#000" stroke-width="1.5"/>
<text x="91.2" y="447.10" text-anchor="end" font-family='"Liberation Serif", serif' font-size="15">200</text>
<text x="0" y="0" transform="translate(50.8,558.2) rotate(-90)" text-anchor="middle" font-family='"Liberation Serif", serif' font-size="21.2">Mean fluorescence intensity</text>
<path d="M171 651V642M167.5 642H174.5" stroke="#000" stroke-width="1.9" fill="none"/>
<path d="M226 486V447.7M222.5 447.7H229.5" stroke="#000" stroke-width="1.9" fill="none"/>
<path d="M282.3 634V616.2M278.8 616.2H285.8" stroke="#000" stroke-width="1.9" fill="none"/>
<path d="M337.7 637.4V626.5M334.2 626.5H341.2" stroke="#000" stroke-width="1.9" fill="none"/>
<path d="M393.3 633.3V626.2M389.8 626.2H396.8" stroke="#000" stroke-width="1.9" fill="none"/>
<path d="M449.3 626.8V613M445.8 613H452.8" stroke="#000" stroke-width="1.9" fill="none"/>
<rect x="143" y="651" width="55.5" height="29.799999999999955" fill="#fff" stroke="#000" stroke-width="1.8"/>
<rect x="255.5" y="634" width="54.5" height="46.799999999999955" fill="#fff" stroke="#000" stroke-width="1.8"/>
<rect x="366" y="633.3" width="54.60000000000002" height="47.5" fill="#fff" stroke="#000" stroke-width="1.8"/>
<rect x="198.5" y="486" width="57.0" height="194.79999999999995" fill="#000"/>
<rect x="310" y="637.4" width="56" height="43.39999999999998" fill="#000"/>
<rect x="420.6" y="626.8" width="57.599999999999966" height="54.0" fill="#000"/>
<path d="M156.7 433.8H229.6" stroke="#000" stroke-width="2"/>
<g stroke="#000" stroke-width="1.7" stroke-linecap="round"><path d="M190.6 415V427.2"/><path d="M186.2 418.2L195.2 423.6"/><path d="M186.2 423.6L195.2 418.2"/></g>
<rect x="364.5" y="426.3" width="31.5" height="32.2" fill="#fff" stroke="#000" stroke-width="1.7"/>
<rect x="363.7" y="466.3" width="33" height="32.5" fill="#000"/>
<text x="404.2" y="451.8" font-family='"Liberation Serif", serif' font-size="26.6">CTRL</text>
<text x="405.8" y="493.1" font-family='"Liberation Serif", serif' font-size="25.8">NB1</text>
<text x="175.6" y="709.7" font-family='"Liberation Serif", serif' font-size="25.4">PR3</text>
<text x="280.4" y="709.9" font-family='"Liberation Serif", serif' font-size="26.2">HNE</text>
<text x="394.2" y="709.9" font-family='"Liberation Serif", serif' font-size="26.3">MPO</text>
</svg></body></html>
